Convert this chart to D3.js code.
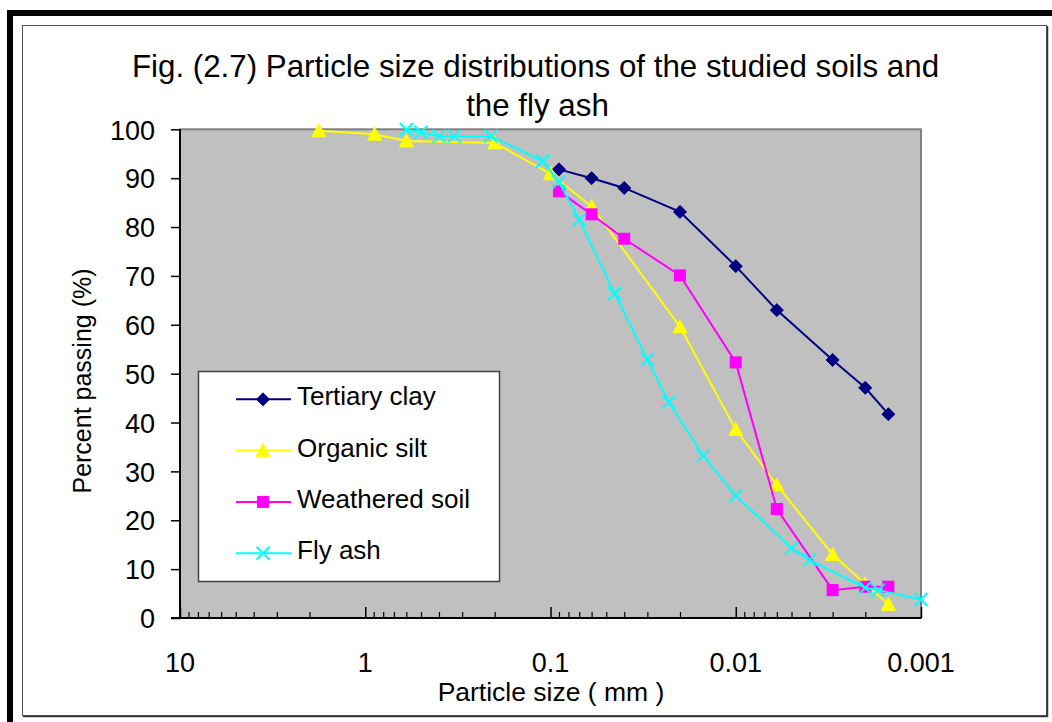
<!DOCTYPE html>
<html>
<head>
<meta charset="utf-8">
<script src="https://cdn.jsdelivr.net/npm/d3@7/dist/d3.min.js"></script>
<style>
  html, body { margin: 0; padding: 0; background: #fff; }
  svg { display: block; }
  text { font-family: "Liberation Sans", Arial, sans-serif; fill: #000; }
</style>
</head>
<body>
<svg id="chart" width="1052" height="722"></svg>
<script>
// Particle size (mm) and percent passing for each material
const claySize = [0.09, 0.06, 0.04, 0.02, 0.01, 0.006, 0.003, 0.002, 0.0015];
const clayPass = [91.8, 90.0, 88.0, 83.1, 72.0, 63.0, 52.8, 47.1, 41.7];

const siltSize = [1.78, 0.89, 0.6, 0.2, 0.1, 0.06, 0.02, 0.01, 0.006, 0.003, 0.002, 0.0015];
const siltPass = [99.7, 99.0, 97.6, 97.2, 90.9, 84.2, 59.6, 38.6, 27.2, 13.0, 7.0, 2.8];

const weatheredSize = [0.09, 0.06, 0.04, 0.02, 0.01, 0.006, 0.003, 0.002, 0.0015];
const weatheredPass = [87.3, 82.6, 77.6, 70.1, 52.3, 22.3, 5.7, 6.4, 6.4];

const ashSize = [0.6, 0.5, 0.4, 0.33, 0.21, 0.11, 0.09, 0.07, 0.045, 0.03, 0.023, 0.015, 0.01, 0.005, 0.004, 0.002, 0.0017, 0.001];
const ashPass = [99.9, 99.4, 98.6, 98.6, 98.6, 93.5, 89.2, 81.5, 66.4, 52.9, 44.2, 33.2, 25.0, 14.3, 11.9, 6.2, 5.7, 3.8];

const seriesNames = ["Tertiary clay", "Organic silt", "Weathered soil", "Fly ash"];
const seriesColors = ["#000080", "#FFFF00", "#FF00FF", "#00FFFF"];
const seriesMarkers = ["diamond", "triangle", "square", "cross"];

const xTickValues = [10, 1, 0.1, 0.01, 0.001];
const xTickLabels = ["10", "1", "0.1", "0.01", "0.001"];
const yTickValues = [0, 10, 20, 30, 40, 50, 60, 70, 80, 90, 100];

const titleLines = ["Fig. (2.7) Particle size distributions of the studied soils and", "the fly ash"];
const xTitle = "Particle size ( mm )";
const yTitle = "Percent passing (%)";

const series = [
  { size: claySize, pass: clayPass },
  { size: siltSize, pass: siltPass },
  { size: weatheredSize, pass: weatheredPass },
  { size: ashSize, pass: ashPass }
].map((s, k) => ({
  name: seriesNames[k],
  color: seriesColors[k],
  marker: seriesMarkers[k],
  points: s.size.map((d, i) => ({ d: d, p: s.pass[i] }))
}));

const svg = d3.select("#chart");

// Page frame and chart area
svg.append("rect").attr("x", 7).attr("y", 10).attr("width", 1045).attr("height", 6).attr("fill", "#000");
svg.append("rect").attr("x", 7).attr("y", 10).attr("width", 6).attr("height", 712).attr("fill", "#000");
svg.append("rect").attr("x", 22.5).attr("y", 25.5).attr("width", 1024).attr("height", 690)
  .attr("fill", "#fff").attr("stroke", "#555").attr("stroke-width", 1);
svg.append("line").attr("x1", 1047.5).attr("x2", 1047.5).attr("y1", 26).attr("y2", 717).attr("stroke", "#333").attr("stroke-width", 1.5);
svg.append("line").attr("x1", 23).attr("x2", 1048).attr("y1", 716.5).attr("y2", 716.5).attr("stroke", "#333").attr("stroke-width", 1.5);

const plotLeft = 180, plotRight = 921, plotTop = 129.3, plotBottom = 618;
const x = d3.scaleLog().domain([10, 0.001]).range([plotLeft, plotRight]);
const y = d3.scaleLinear().domain([0, 100]).range([plotBottom, plotTop]);

// Plot area
svg.append("rect").attr("x", plotLeft).attr("y", plotTop)
  .attr("width", plotRight - plotLeft).attr("height", plotBottom - plotTop)
  .attr("fill", "#C0C0C0").attr("stroke", "#808080").attr("stroke-width", 2);

// Title
svg.append("text").attr("x", 535.5).attr("y", 76.5).attr("text-anchor", "middle")
  .style("font-size", "31.3px").text(titleLines[0]);
svg.append("text").attr("x", 537.5).attr("y", 115.5).attr("text-anchor", "middle")
  .style("font-size", "31.3px").text(titleLines[1]);

// Y axis
const yAxis = d3.axisLeft(y).tickValues(yTickValues).tickSize(9).tickPadding(16).tickFormat(d3.format("d"));
const gy = svg.append("g").attr("transform", `translate(${plotLeft},0)`).call(yAxis);
gy.select(".domain").attr("stroke", "#000").attr("stroke-width", 2).attr("d", `M0,${plotTop}V${plotBottom}`);
gy.selectAll(".tick line").attr("stroke", "#000").attr("stroke-width", 1.5);
gy.selectAll(".tick text").style("font-family", "Liberation Sans, Arial, sans-serif")
  .style("font-size", "27px").attr("dy", "0.36em").attr("fill", "#000");

// X axis: decade labels, ticks drawn inward
const minorTicks = [];
for (let e = -3; e < 1; e++) {
  for (let m = 2; m <= 9; m++) minorTicks.push(m * Math.pow(10, e));
}
const xAxisMinor = d3.axisTop(x).tickValues(minorTicks).tickSize(6).tickFormat("");
const gxm = svg.append("g").attr("transform", `translate(0,${plotBottom})`).call(xAxisMinor);
gxm.select(".domain").remove();
gxm.selectAll(".tick line").attr("stroke", "#000").attr("stroke-width", 1.2);

const xAxisMajor = d3.axisTop(x).tickValues(xTickValues).tickSize(11).tickFormat("");
const gx = svg.append("g").attr("transform", `translate(0,${plotBottom})`).call(xAxisMajor);
gx.select(".domain").remove();
gx.selectAll(".tick line").attr("stroke", "#000").attr("stroke-width", 1.5);
svg.append("line").attr("x1", plotLeft - 9).attr("x2", plotRight).attr("y1", plotBottom).attr("y2", plotBottom)
  .attr("stroke", "#000").attr("stroke-width", 2);

svg.append("g").selectAll("text").data(xTickValues).join("text")
  .attr("x", d => x(d)).attr("y", 672).attr("text-anchor", "middle")
  .style("font-size", "27px").text((d, i) => xTickLabels[i]);

// Axis titles
svg.append("text").attr("x", 551).attr("y", 701).attr("text-anchor", "middle")
  .style("font-size", "26.5px").text(xTitle);
svg.append("text").attr("transform", "translate(91,381) rotate(-90)").attr("text-anchor", "middle")
  .style("font-size", "25px").text(yTitle);

// Marker shapes
function drawMarker(g, type, color, cx, cy) {
  if (type === "diamond") {
    g.append("path").attr("d", `M${cx},${cy - 6.5}L${cx + 6.5},${cy}L${cx},${cy + 6.5}L${cx - 6.5},${cy}Z`)
      .attr("fill", color).attr("stroke", color).attr("stroke-width", 1);
  } else if (type === "triangle") {
    g.append("path").attr("d", `M${cx},${cy - 7}L${cx + 7},${cy + 6}L${cx - 7},${cy + 6}Z`)
      .attr("fill", color).attr("stroke", color).attr("stroke-width", 1);
  } else if (type === "square") {
    g.append("rect").attr("x", cx - 6).attr("y", cy - 6).attr("width", 12).attr("height", 12)
      .attr("fill", color);
  } else if (type === "cross") {
    g.append("path").attr("d", `M${cx - 6.5},${cy - 6.5}L${cx + 6.5},${cy + 6.5}M${cx + 6.5},${cy - 6.5}L${cx - 6.5},${cy + 6.5}`)
      .attr("stroke", color).attr("stroke-width", 2).attr("fill", "none");
  }
}

// Series lines and markers
const line = d3.line().x(p => x(p.d)).y(p => y(p.p));
series.forEach(s => {
  const g = svg.append("g");
  g.append("path").attr("d", line(s.points)).attr("fill", "none")
    .attr("stroke", s.color).attr("stroke-width", 2);
  s.points.forEach(p => drawMarker(g, s.marker, s.color, x(p.d), y(p.p)));
});

// Legend
const legend = svg.append("g");
legend.append("rect").attr("x", 198.5).attr("y", 371.5).attr("width", 301).attr("height", 210)
  .attr("fill", "#fff").attr("stroke", "#404040").attr("stroke-width", 1.5);
series.forEach((s, i) => {
  const ry = 399.3 + i * 51.3;
  const g = legend.append("g");
  g.append("line").attr("x1", 236).attr("x2", 291).attr("y1", ry).attr("y2", ry)
    .attr("stroke", s.color).attr("stroke-width", 2);
  drawMarker(g, s.marker, s.color, 263, ry);
  g.append("text").attr("x", 297).attr("y", ry + 6).style("font-size", "26px").text(s.name);
});
</script>
</body>
</html>
